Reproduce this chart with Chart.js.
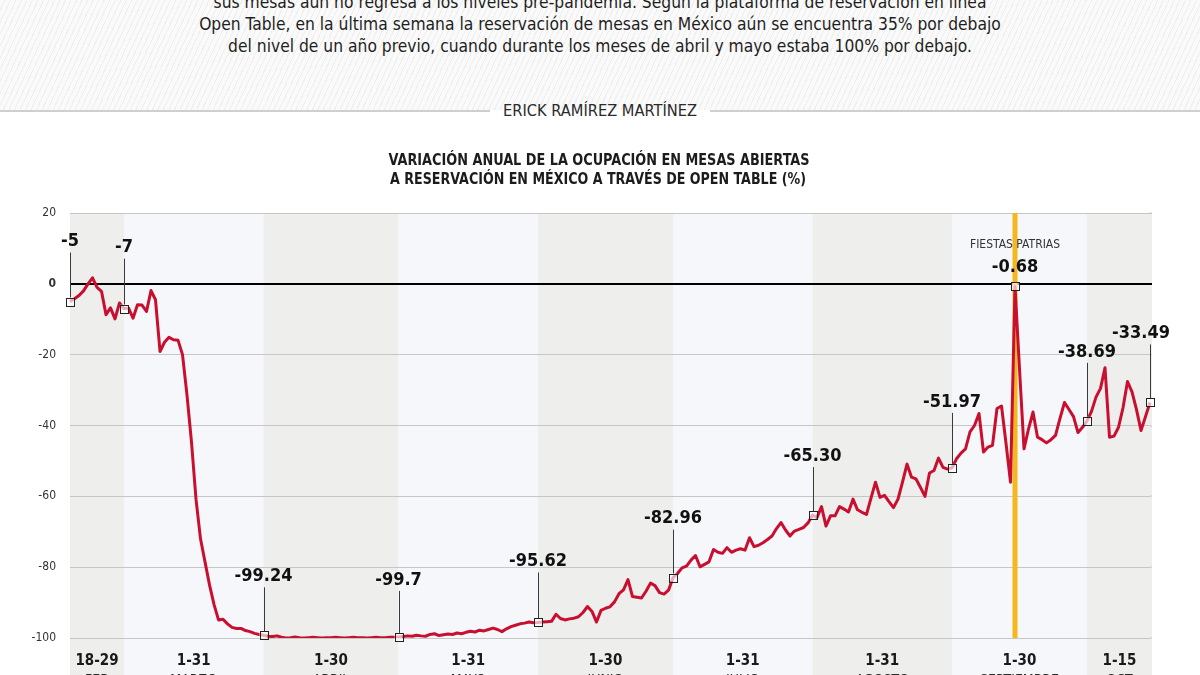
<!DOCTYPE html>
<html lang="es">
<head>
<meta charset="utf-8">
<script src="https://cdn.jsdelivr.net/npm/chart.js@4.4.0/dist/chart.umd.min.js"></script>
<style>
html,body{margin:0;padding:0;width:1200px;height:675px;overflow:hidden;background:#fff;}
#hdr{position:absolute;left:0;top:0;width:1200px;height:110px;
  background:repeating-linear-gradient(115deg,#fafafa 0px,#fafafa 4px,#eeeeee 4px,#eeeeee 5px);}
#intro{position:absolute;left:0;top:-9px;width:1200px;text-align:center;
  font-family:"DejaVu Sans Condensed","DejaVu Sans",sans-serif;font-size:17.3px;line-height:22px;color:#1e1e1e;}
.sep{position:absolute;top:110px;height:1.5px;background:#cfcfcf;}
#author{position:absolute;top:101px;left:0;width:1200px;text-align:center;
  font-family:"DejaVu Sans Condensed","DejaVu Sans",sans-serif;font-size:16.3px;color:#2a2a2a;line-height:20px;}
#c{position:absolute;left:0;top:0;}
</style>
</head>
<body>
<div id="hdr"></div>
<div id="intro">sus mesas aún no regresa a los niveles pre-pandemia. Según la plataforma de reservación en línea<br>Open Table, en la última semana la reservación de mesas en México aún se encuentra 35% por debajo<br>del nivel de un año previo, cuando durante los meses de abril y mayo estaba 100% por debajo.</div>
<div class="sep" style="left:0;width:490px"></div>
<div class="sep" style="left:710px;width:490px"></div>
<div id="author">ERICK RAMÍREZ MARTÍNEZ</div>
<canvas id="c" width="1200" height="675"></canvas>
<script>
// ---------- DATA ----------
const titleLines = ['VARIACIÓN ANUAL DE LA OCUPACIÓN EN MESAS ABIERTAS', 'A RESERVACIÓN EN MÉXICO A TRAVÉS DE OPEN TABLE (%)'];
const monthNames = ['FEB','MARZO','ABRIL','MAYO','JUNIO','JULIO','AGOSTO','SEPTIEMBRE','OCT'];
const monthFirstDay = [18,1,1,1,1,1,1,1,1];
const monthRanges = ['18-29','1-31','1-30','1-31','1-30','1-31','1-31','1-30','1-15'];

const febValues = [-5,-4.2,-3.3,-2.0,0.0,1.7,-1.0,-2.1,-8.7,-6.8,-9.9,-5.4];
const marValues = [-7,-6.8,-9.7,-5.9,-6.0,-7.8,-1.9,-4.5,-19.1,-16.5,-15.1,-15.8,-15.9,-20,-31.4,-44.7,-60.8,-72,-78.5,-85,-90.5,-94.9,-94.7,-96,-97,-97.3,-97.3,-97.9,-98.2,-98.7,-99.0];
const aprValues = [-99.24,-99.5,-99.6,-99.4,-99.8,-100,-99.9,-99.7,-99.9,-100,-99.9,-99.8,-99.9,-100,-99.9,-99.9,-99.8,-99.9,-100,-99.9,-99.8,-99.9,-99.9,-100,-99.9,-99.8,-99.9,-99.9,-99.8,-99.8];
const mayValues = [-99.7,-99.6,-99.4,-99.5,-99.2,-99.4,-99.5,-99.0,-98.8,-99.3,-99.1,-98.9,-99.0,-98.6,-98.8,-98.4,-98.1,-98.3,-97.8,-98.0,-97.6,-97.2,-97.6,-98.2,-97.4,-96.8,-96.4,-96.0,-95.8,-95.5,-95.7];
const junValues = [-95.62,-95.5,-95.4,-95.3,-93.3,-94.5,-94.9,-94.6,-94.4,-94.0,-92.8,-91.1,-92.5,-95.5,-92.2,-91.6,-91.2,-89.8,-87.5,-86.4,-83.5,-88.3,-88.5,-88.7,-86.8,-84.5,-85.2,-87.2,-87.6,-86.5];
const julValues = [-82.96,-81.8,-80.2,-79.7,-78.0,-76.7,-79.9,-79.2,-78.5,-75.0,-75.8,-76.1,-74.5,-75.8,-75.2,-74.8,-75.2,-71.7,-74.2,-73.8,-73.1,-72.2,-71.2,-69.1,-67.4,-69.5,-71.2,-69.8,-69.3,-68.8,-67.5];
const augValues = [-65.30,-66.0,-62.9,-68.4,-65.5,-65.5,-62.9,-63.6,-64.4,-60.8,-63.8,-64.5,-65.1,-60.5,-56.0,-60.3,-59.7,-61.5,-63.2,-60.8,-56.0,-50.9,-54.6,-55.1,-57.5,-60.0,-53.4,-52.7,-49.2,-51.8,-52.3];
const sepValues = [-51.97,-49.4,-47.8,-46.6,-41.8,-40.0,-36.6,-47.5,-46.1,-45.6,-35.2,-34.5,-45.0,-56.0,-0.68,-24.0,-46.6,-41.0,-36.2,-43.3,-44.0,-44.9,-44.0,-42.8,-38.0,-33.5,-35.5,-37.5,-42.0,-40.5];
const octValues = [-38.69,-36.0,-32.0,-29.5,-23.7,-43.3,-43.0,-40.5,-35.0,-27.6,-30.5,-35.5,-41.4,-37.5,-33.49];

const yTicks = [20,0,-20,-40,-60,-80,-100];

const annotDates = ['18 FEB','1 MARZO','1 ABRIL','1 MAYO','1 JUNIO','1 JULIO','1 AGOSTO','1 SEPTIEMBRE','15 SEPTIEMBRE','1 OCT','15 OCT'];
const annotTexts = ['-5','-7','-99.24','-99.7','-95.62','-82.96','-65.30','-51.97','-0.68','-38.69','-33.49'];
const eventDate = '15 SEPTIEMBRE';
const eventText = 'FIESTAS PATRIAS';

// ---------- BUILD ----------
const monthValues = [febValues,marValues,aprValues,mayValues,junValues,julValues,augValues,sepValues,octValues];
const labels = [];
const values = [];
const monthStart = [];
monthValues.forEach((arr, m) => {
  monthStart.push(labels.length);
  arr.forEach((v, d) => { labels.push((monthFirstDay[m] + d) + ' ' + monthNames[m]); values.push(v); });
});

const FONT = '"DejaVu Sans Condensed", "DejaVu Sans", sans-serif';
const BAND_DARK = '#eeeeec';
const BAND_LIGHT = '#f6f7fa';
const LINE_RED = '#c90f2f';
const EVENT_YELLOW = '#f4b71e';
const ANN_OFFSET = [60,61,59,57,61,59,59,66,0,69,69];
const PLOT_RIGHT_EDGE = 1152;

const bgPlugin = {
  id: 'bands',
  beforeDraw(chart) {
    const {ctx, chartArea, scales} = chart;
    const xs = scales.x;
    ctx.save();
    for (let m = 0; m < monthNames.length; m++) {
      const x0 = m === 0 ? chartArea.left : xs.getPixelForValue(monthStart[m]);
      const x1 = m < monthNames.length - 1 ? xs.getPixelForValue(monthStart[m + 1]) : PLOT_RIGHT_EDGE;
      ctx.fillStyle = m % 2 === 0 ? BAND_DARK : BAND_LIGHT;
      ctx.fillRect(x0, chartArea.top, x1 - x0, chart.height - chartArea.top);
      const cx = (x0 + x1) / 2;
      ctx.fillStyle = '#1a1a1a';
      ctx.textAlign = 'center';
      ctx.textBaseline = 'middle';
      ctx.font = 'bold 15px ' + FONT;
      ctx.fillText(monthRanges[m], cx, 661);
      ctx.font = '14px ' + FONT;
      ctx.fillStyle = '#2a2a2a';
      ctx.fillText(monthNames[m], cx, 680);
    }
    // top gridline continuation to band edge
    ctx.fillStyle = '#c6c6c6';
    ctx.fillRect(chartArea.right, chartArea.top, PLOT_RIGHT_EDGE - chartArea.right, 1);
    // title
    ctx.fillStyle = '#1c1c1c';
    ctx.font = 'bold 16px ' + FONT;
    ctx.textAlign = 'center';
    ctx.textBaseline = 'alphabetic';
    ctx.fillText(titleLines[0], 599, 165, 421);
    ctx.fillText(titleLines[1], 598, 184, 416);
    ctx.restore();
  },
  beforeDatasetsDraw(chart) {
    const {ctx, chartArea, scales} = chart;
    const x = scales.x.getPixelForValue(labels.indexOf(eventDate));
    ctx.save();
    // extend grid lines to band edge
    yTicks.forEach(v => {
      const y = scales.y.getPixelForValue(v);
      ctx.fillStyle = v === 0 ? '#000' : '#c6c6c6';
      const h = v === 0 ? 2 : 1;
      ctx.fillRect(chartArea.right, Math.round(y) - h / 2, PLOT_RIGHT_EDGE - chartArea.right, h);
    });
    ctx.fillStyle = EVENT_YELLOW;
    ctx.fillRect(x - 2.5, chartArea.top, 5, chartArea.bottom - chartArea.top);
    ctx.restore();
  },
  afterDatasetsDraw(chart) {
    const {ctx, scales} = chart;
    ctx.save();
    annotDates.forEach((d, k) => {
      const i = labels.indexOf(d);
      const x = scales.x.getPixelForValue(i);
      const y = scales.y.getPixelForValue(values[i]);
      ctx.font = 'bold 18px ' + FONT;
      ctx.textAlign = 'center';
      ctx.textBaseline = 'middle';
      const w = ctx.measureText(annotTexts[k]).width;
      let lx = x;
      if (lx + w / 2 > 1170) lx = 1170 - w / 2;
      if (d === eventDate) {
        ctx.fillStyle = '#111';
        ctx.fillText(annotTexts[k], x, y - 19);
        ctx.font = '12px ' + FONT;
        ctx.fillStyle = '#333';
        ctx.fillText(eventText, x, y - 41);
      } else {
        const ly = y - ANN_OFFSET[k];
        ctx.fillStyle = '#111';
        ctx.fillText(annotTexts[k], lx, ly);
        ctx.strokeStyle = '#3a3a3a';
        ctx.lineWidth = 1;
        ctx.beginPath();
        ctx.moveTo(Math.round(x) + 0.5, ly + 11);
        ctx.lineTo(Math.round(x) + 0.5, y - 4);
        ctx.stroke();
      }
      ctx.fillStyle = 'rgba(255,255,255,0.65)';
      ctx.fillRect(x - 4, y - 4, 8, 8);
      ctx.strokeStyle = '#222';
      ctx.lineWidth = 1;
      ctx.strokeRect(Math.round(x) - 3.5, Math.round(y) - 3.5, 8, 8);
    });
    ctx.restore();
  }
};

new Chart(document.getElementById('c'), {
  type: 'line',
  data: {
    labels: labels,
    datasets: [{
      data: values,
      borderColor: LINE_RED,
      borderWidth: 3,
      pointRadius: 0,
      tension: 0,
      fill: false,
      borderJoinStyle: 'round'
    }]
  },
  options: {
    responsive: false,
    animation: false,
    devicePixelRatio: 1,
    layout: { padding: { top: 213, bottom: 37, left: 0, right: 50 } },
    plugins: { legend: { display: false }, tooltip: { enabled: false }, title: { display: false } },
    scales: {
      x: { type: 'category', display: false, offset: false },
      y: {
        min: -100, max: 20,
        afterFit(s) { s.width = 70; },
        afterBuildTicks(s) { s.ticks = yTicks.map(v => ({ value: v })); },
        border: { display: false },
        grid: {
          drawTicks: false,
          color: c => (c.tick && c.tick.value === 0) ? '#000' : '#c6c6c6',
          lineWidth: c => (c.tick && c.tick.value === 0) ? 2 : 1
        },
        ticks: {
          padding: 14,
          color: '#333',
          font: c => ({ family: FONT, size: 12, weight: (c.tick && c.tick.value === 0) ? 'bold' : 'normal' })
        }
      }
    }
  },
  plugins: [bgPlugin]
});
</script>
</body>
</html>
